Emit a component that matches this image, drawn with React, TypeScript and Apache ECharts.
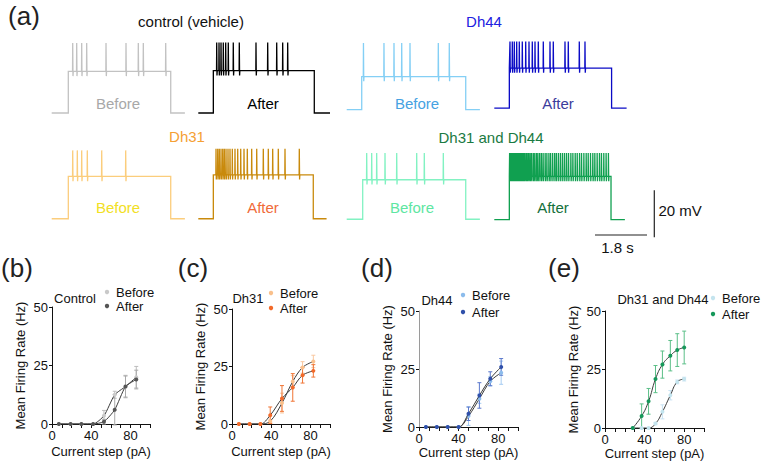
import React, { useEffect, useRef } from 'react';
import * as echarts from 'echarts';

// ---------------- Panel (a): example recordings (time in s, membrane potential in mV) ----------------
const traceNames = ['control Before', 'control After', 'Dh44 Before', 'Dh44 After', 'Dh31 Before', 'Dh31 After', 'Dh31 and Dh44 Before', 'Dh31 and Dh44 After'];
const traceDuration = [4.61, 4.56, 4.61, 4.58, 4.61, 4.44, 4.61, 4.52];
const stepOn = [0.575, 0.52, 0.52, 0.52, 0.575, 0.52, 0.554, 0.52];
const stepOff = [4.12, 4.015, 4.12, 4.06, 4.12, 3.98, 4.12, 4.04];
const restMv = [-70.1, -70.1, -68.7, -68, -70, -70, -70.2, -70.4];
const plateauMv = [-52.4, -52.1, -54.6, -51, -52, -51.3, -53.4, -52];
const peakMv = [-40.3, -40.1, -40.3, -39.7, -40.9, -40.2, -42, -42];

const spikesControlBefore = [0.727, 0.865, 1.038, 1.211, 1.88, 2.572, 2.998, 3.171, 3.946];
const spikesControlAfter = [0.637, 0.717, 0.786, 0.865, 0.948, 1.038, 1.211, 1.419, 1.997, 2.402, 2.714, 2.921, 3.094];
const spikesDh44Before = [0.58, 1.29, 1.637, 1.904, 2.191, 3.171, 3.551];
const spikesDh44After = [0.543, 0.623, 0.692, 0.775, 0.865, 0.969, 1.087, 1.201, 1.315, 1.409, 1.523, 1.696, 1.928, 2.042, 2.447, 2.561, 2.942, 3.139];
const spikesDh31Before = [0.727, 0.886, 1.038, 1.232, 1.731, 2.561];
const spikesDh31After = [0.613, 0.672, 0.727, 0.786, 0.845, 0.9, 0.959, 1.028, 1.097, 1.177, 1.27, 1.364, 1.468, 1.582, 1.696, 1.848, 2.022, 2.25, 2.423, 2.575, 2.769, 3.001, 3.496];
const spikesBothBefore = [0.692, 0.865, 1.038, 1.326, 1.731, 2.423, 2.686, 3.344];
const spikesBothAfter = [0.53, 0.555, 0.58, 0.61, 0.635, 0.665, 0.69, 0.72, 0.75, 0.78, 0.815, 0.85, 0.89, 0.93, 0.965, 1.01, 1.05, 1.1, 1.14, 1.19, 1.24, 1.29, 1.35, 1.4, 1.46, 1.51, 1.57, 1.63, 1.69, 1.76, 1.82, 1.89, 1.95, 2.02, 2.09, 2.15, 2.22, 2.29, 2.36, 2.43, 2.5, 2.57, 2.65, 2.72, 2.8, 2.87, 2.95, 3.02, 3.1, 3.18, 3.25, 3.33, 3.41, 3.48, 3.56, 3.64, 3.71, 3.79, 3.87, 3.95];
const spikeTimes = [spikesControlBefore, spikesControlAfter, spikesDh44Before, spikesDh44After, spikesDh31Before, spikesDh31After, spikesBothBefore, spikesBothAfter];

const scaleBarSeconds = 1.8;
const scaleBarMv = 20;

// ---------------- Panels (b)-(e): mean firing rate vs current step ----------------
const ctrlX = [7, 19, 30, 42, 53, 64, 75, 86];
const ctrlBefore = [0, 0, 0, 0, 3.5, 12.5, 16, 20];
const ctrlBeforeErr = [0, 0, 0, 0, 2.3, 1.5, 4.8, 4.6];
const ctrlAfter = [0, 0, 0, 0, 1, 6.1, 16, 19];
const ctrlAfterErr = [0, 0, 0, 0, 1, 6.5, 4.5, 4];

const dh31X = [7, 18, 29, 39, 51, 62, 72, 83];
const dh31Before = [0, 0, 0, 1.2, 9.1, 18.5, 24.6, 27.2];
const dh31BeforeErr = [0, 0, 0, 0.5, 4.3, 2.5, 2.5, 2.7];
const dh31After = [0, 0, 0, 3.8, 11.1, 15.9, 21.2, 23.1];
const dh31AfterErr = [0, 0, 0, 3.6, 5.6, 6, 3.4, 2.7];

const dh44X = [7, 18, 29, 40, 50, 61, 72, 83];
const dh44Before = [0, 0, 0, 0, 4.7, 12.2, 19.7, 23.4];
const dh44BeforeErr = [0, 0, 0, 0, 4, 2, 2, 5];
const dh44After = [0, 0, 0, 0, 5.7, 13.6, 20.8, 25.9];
const dh44AfterErr = [0, 0, 0, 0, 2.9, 5.5, 3, 3.6];

const bothX = [28, 37, 44, 51, 58, 66, 73, 80];
const bothBefore = [0, 0, 0, 1.9, 6.9, 14, 19.7, 20.9];
const bothBeforeErr = [0, 0, 0, 0.5, 3, 2, 0.8, 0.8];
const bothAfter = [0, 5.1, 11.4, 20.9, 27.1, 30.9, 33.3, 34.4];
const bothAfterErr = [0, 5.2, 5.5, 5.8, 5.8, 6.5, 7, 7];

const xTickLabels = [0, 40, 80];
const yTickLabels = [0, 25, 50];

// ---------------- layout & style ----------------
const FONT = '"Liberation Sans", Arial, Helvetica, sans-serif';
const PX_PER_S = 28.89;
const PX_PER_MV = 2.35;
const traceLeft = [51.7, 198.3, 346.7, 494.3, 51.7, 198.3, 346.7, 494.3];
const rowRestY = [113, 219];
const traceColors = ['#c2c2c2', '#000000', '#84cff5', '#0b0bc6', '#fbcd7c', '#c98a0c', '#82f2c2', '#10a050'];

const panels = [
  { key: 'b', title: 'Control', x: ctrlX, before: ctrlBefore, beforeErr: ctrlBeforeErr, after: ctrlAfter, afterErr: ctrlAfterErr,
    grid: { left: 52, top: 307, width: 98, height: 117 }, cBefore: '#c9c9c9', cAfter: '#555555', eBefore: '#bdbdbd', eAfter: '#a9a9a9',
    smooth: 0.2, yAxisColor: '#111', titleX: 75, titleY: 298, legX: 107, legY1: 292, legY2: 306, labelX: 17, xGap: 21 },
  { key: 'c', title: 'Dh31', x: dh31X, before: dh31Before, beforeErr: dh31BeforeErr, after: dh31After, afterErr: dh31AfterErr,
    grid: { left: 232, top: 309, width: 98, height: 115 }, cBefore: '#f9c08c', cAfter: '#f26a2a', eBefore: '#f9c8a0', eAfter: '#f07535',
    smooth: 0.35, yAxisColor: '#111', titleX: 248, titleY: 298, legX: 271, legY1: 293, legY2: 308, labelX: 193, xGap: 21 },
  { key: 'd', title: 'Dh44', x: dh44X, before: dh44Before, beforeErr: dh44BeforeErr, after: dh44After, afterErr: dh44AfterErr,
    grid: { left: 419, top: 311, width: 99, height: 116 }, cBefore: '#8cbcec', cAfter: '#3050aa', eBefore: '#a6ccf2', eAfter: '#5a78cc',
    smooth: 0.35, yAxisColor: '#9a9a9a', titleX: 437, titleY: 300, legX: 463, legY1: 295, legY2: 312, labelX: 377, xGap: 18.5 },
  { key: 'e', title: 'Dh31 and Dh44', x: bothX, before: bothBefore, beforeErr: bothBeforeErr, after: bothAfter, afterErr: bothAfterErr,
    grid: { left: 605, top: 311, width: 99, height: 117 }, cBefore: '#c4e4ee', cAfter: '#16985a', eBefore: '#c8e2f2', eAfter: '#5cbf88',
    smooth: 0.5, yAxisColor: '#111', titleX: 663, titleY: 299, legX: 713, legY1: 298, legY2: 314, labelX: 564, xGap: 17.5 },
];

function buildTrace(i: number): number[][] {
  const rest = restMv[i];
  const plat = plateauMv[i];
  const peak = peakMv[i];
  const pts: number[][] = [[0, rest], [stepOn[i], rest], [stepOn[i], plat]];
  for (const t of spikeTimes[i]) {
    pts.push([t - 0.006, plat], [t, peak], [t + 0.01, plat - 2], [t + 0.019, plat]);
  }
  pts.push([stepOff[i], plat], [stepOff[i], rest], [traceDuration[i], rest]);
  return pts;
}

function errRender(color: string) {
  return (params: any, api: any) => {
    const x = api.value(0);
    const lo = api.coord([x, api.value(1)]);
    const hi = api.coord([x, api.value(2)]);
    const w = 2;
    const st = { stroke: color, lineWidth: 1 };
    return {
      type: 'group',
      children: [
        { type: 'line', shape: { x1: lo[0], y1: lo[1], x2: hi[0], y2: hi[1] }, style: st },
        { type: 'line', shape: { x1: lo[0] - w, y1: lo[1], x2: lo[0] + w, y2: lo[1] }, style: st },
        { type: 'line', shape: { x1: hi[0] - w, y1: hi[1], x2: hi[0] + w, y2: hi[1] }, style: st },
      ],
    };
  };
}

function buildOption() {
  const grid: any[] = [];
  const xAxis: any[] = [];
  const yAxis: any[] = [];
  const series: any[] = [];
  const graphic: any[] = [];

  // traces
  const yMin = -75;
  const yMax = -35;
  for (let i = 0; i < 8; i++) {
    const row = i < 4 ? 0 : 1;
    const top = rowRestY[row] - (yMax - restMv[0]) * PX_PER_MV;
    grid.push({ left: traceLeft[i], top, width: traceDuration[i] * PX_PER_S, height: (yMax - yMin) * PX_PER_MV, containLabel: false, outerBoundsMode: 'none' });
    xAxis.push({ gridIndex: i, type: 'value', min: 0, max: traceDuration[i], show: false });
    yAxis.push({ gridIndex: i, type: 'value', min: yMin, max: yMax, show: false });
    series.push({
      name: traceNames[i], type: 'line', xAxisIndex: i, yAxisIndex: i, data: buildTrace(i),
      symbol: 'none', silent: true, lineStyle: { color: traceColors[i], width: 1.3, join: 'miter' },
    });
  }

  // firing-rate panels
  panels.forEach((p, k) => {
    const gi = 8 + k;
    grid.push({ ...p.grid, containLabel: false, outerBoundsMode: 'none' });
    xAxis.push({
      gridIndex: gi, type: 'value', min: 0, max: 100, interval: 10,
      name: 'Current step (pA)', nameLocation: 'middle', nameGap: p.xGap,
      nameTextStyle: { fontSize: 13, color: '#111', fontFamily: FONT },
      axisLine: { show: true, lineStyle: { color: '#111', width: 1 } },
      axisTick: { show: true, length: 4, lineStyle: { color: '#111' } },
      splitLine: { show: false },
      axisLabel: {
        fontSize: 13, color: '#111', margin: 5, fontFamily: FONT,
        formatter: (v: number) => (xTickLabels.includes(v) ? String(v) : ''),
      },
    });
    yAxis.push({
      gridIndex: gi, type: 'value', min: 0, max: 50, interval: 25,
      name: 'Mean Firing Rate (Hz)', nameLocation: 'middle', nameGap: 25,
      nameTextStyle: { fontSize: 13, color: '#111', fontFamily: FONT },
      axisLine: { show: true, lineStyle: { color: p.yAxisColor, width: 1 } },
      axisTick: { show: true, length: 3, lineStyle: { color: '#111' } },
      splitLine: { show: false },
      axisLabel: {
        fontSize: 13, color: '#111', margin: 4, fontFamily: FONT,
        formatter: (v: number) => (yTickLabels.includes(v) ? String(v) : ''),
      },
    });
    const errData = (vals: number[], errs: number[]) =>
      p.x.map((x, i) => [x, vals[i] - errs[i], vals[i] + errs[i]]).filter((d, i) => errs[i] > 0);
    series.push({
      name: p.title + ' Before error', type: 'custom', xAxisIndex: gi, yAxisIndex: gi,
      renderItem: errRender(p.eBefore), data: errData(p.before, p.beforeErr), encode: { x: 0, y: [1, 2] }, silent: true, z: 2,
    });
    series.push({
      name: p.title + ' After error', type: 'custom', xAxisIndex: gi, yAxisIndex: gi,
      renderItem: errRender(p.eAfter), data: errData(p.after, p.afterErr), encode: { x: 0, y: [1, 2] }, silent: true, z: 3,
    });
    series.push({
      name: p.title + ' Before', type: 'line', xAxisIndex: gi, yAxisIndex: gi,
      data: p.x.map((x, i) => [x, p.before[i]]), smooth: p.smooth,
      symbol: 'circle', symbolSize: 4, showSymbol: true, silent: true, z: 4,
      itemStyle: { color: p.cBefore }, lineStyle: { color: '#3a3a3a', width: 1 },
    });
    series.push({
      name: p.title + ' After', type: 'line', xAxisIndex: gi, yAxisIndex: gi,
      data: p.x.map((x, i) => [x, p.after[i]]), smooth: p.smooth,
      symbol: 'circle', symbolSize: 4, showSymbol: true, silent: true, z: 5,
      itemStyle: { color: p.cAfter }, lineStyle: { color: '#3a3a3a', width: 1 },
    });

    // title + legend
    graphic.push({ type: 'text', x: p.titleX, y: p.titleY, style: { text: p.title, fontSize: 13, fontFamily: FONT, fill: '#111', align: 'center', verticalAlign: 'middle' } });
    graphic.push({ type: 'circle', shape: { cx: p.legX, cy: p.legY1, r: 2.2 }, style: { fill: p.cBefore } });
    graphic.push({ type: 'circle', shape: { cx: p.legX, cy: p.legY2, r: 2.2 }, style: { fill: p.cAfter } });
    graphic.push({ type: 'text', x: p.legX + 9, y: p.legY1, style: { text: 'Before', fontSize: 13, fontFamily: FONT, fill: '#111', align: 'left', verticalAlign: 'middle' } });
    graphic.push({ type: 'text', x: p.legX + 9, y: p.legY2, style: { text: 'After', fontSize: 13, fontFamily: FONT, fill: '#111', align: 'left', verticalAlign: 'middle' } });
    graphic.push({ type: 'text', x: p.labelX, y: 268, style: { text: '(' + p.key + ')', fontSize: 26, fontFamily: FONT, fill: '#222', align: 'center', verticalAlign: 'middle' } });
  });

  // panel (a) texts
  const txt = (text: string, x: number, y: number, fill: string, fontSize = 15) => ({
    type: 'text', x, y, style: { text, fontSize, fontFamily: FONT, fill, align: 'center', verticalAlign: 'middle' },
  });
  graphic.push(txt('(a)', 24, 16, '#222', 26));
  graphic.push(txt('control (vehicle)', 191, 21, '#111'));
  graphic.push(txt('Dh44', 484, 21, '#2020e0'));
  graphic.push(txt('Dh31', 187, 136, '#f5a034'));
  graphic.push(txt('Dh31 and Dh44', 491, 137, '#1a7a42'));
  graphic.push(txt('Before', 118, 103, '#a8a8a8'));
  graphic.push(txt('After', 263, 103, '#000000'));
  graphic.push(txt('Before', 417, 103, '#46a2e2'));
  graphic.push(txt('After', 558, 103, '#3c3c9c'));
  graphic.push(txt('Before', 118, 207, '#f2e024'));
  graphic.push(txt('After', 263, 207, '#f06a3a'));
  graphic.push(txt('Before', 412, 207, '#5ee6a2'));
  graphic.push(txt('After', 553, 207, '#15703c'));

  // scale bars
  const sbX = 595;
  const sbY = 235;
  const vX = 654.3;
  graphic.push({ type: 'line', shape: { x1: sbX, y1: sbY, x2: sbX + scaleBarSeconds * PX_PER_S, y2: sbY }, style: { stroke: '#222', lineWidth: 1.2 } });
  graphic.push({ type: 'line', shape: { x1: vX, y1: 237.3, x2: vX, y2: 237.3 - scaleBarMv * PX_PER_MV }, style: { stroke: '#222', lineWidth: 1.2 } });
  graphic.push({ type: 'text', x: 658.5, y: 210, style: { text: scaleBarMv + ' mV', fontSize: 15, fontFamily: FONT, fill: '#111', align: 'left', verticalAlign: 'middle' } });
  graphic.push(txt(scaleBarSeconds + ' s', 617.5, 247, '#111'));

  return {
    animation: false,
    backgroundColor: '#ffffff',
    textStyle: { fontFamily: FONT },
    grid, xAxis, yAxis, series, graphic,
  };
}

export default function App() {
  const ref = useRef<HTMLDivElement>(null);
  useEffect(() => {
    const chart = echarts.init(ref.current!, null, { renderer: 'svg' });
    chart.setOption(buildOption() as any);
    return () => chart.dispose();
  }, []);
  return <div ref={ref} style={{ position: 'absolute', left: 0, top: 0, width: 763, height: 461, background: '#fff' }} />;
}
